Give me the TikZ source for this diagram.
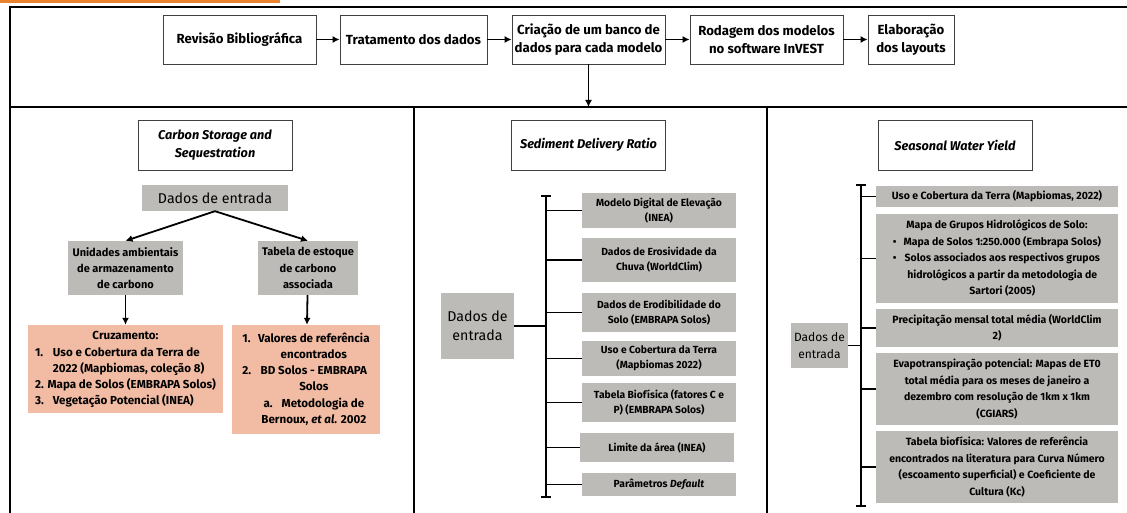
\documentclass[tikz,border=0pt]{standalone}
\usepackage{fontspec}
\setmainfont{Fira Sans}
\usepackage{xcolor}
\usetikzlibrary{arrows,arrows.meta}
\definecolor{boxgray}{HTML}{BDBBB8}
\definecolor{boxorange}{HTML}{F2BCA4}
\definecolor{stripe}{HTML}{E8822E}

\begin{document}
\begin{tikzpicture}[x=1pt,y=-1pt,
  topbox/.style={draw=black!75, line width=0.8pt, fill=white, align=center, minimum height=49, inner sep=2pt, font=\fontsize{13.2}{18.5}\selectfont\bfseries},
  titlebox/.style={topbox, minimum width=154, minimum height=50, font=\fontsize{12.7}{18}\selectfont\bfseries\itshape},
  graybox/.style={fill=boxgray, align=center, inner sep=1pt, font=\fontsize{10.3}{15}\selectfont\bfseries},
  sidebox/.style={graybox, minimum width=242, font=\fontsize{10.5}{16.5}\selectfont\bfseries},
  orangebox/.style={fill=boxorange, align=center, inner sep=1pt, font=\fontsize{11.6}{16.2}\selectfont\bfseries},
  inbox/.style={fill=boxgray, align=center, inner sep=1pt, font=\fontsize{14.2}{19}\selectfont},
  conn/.style={line width=1.8pt},
  flow/.style={line width=1.8pt, -{Latex[length=7pt,width=7pt]}}]
\useasboundingbox (0,0) rectangle (1127,513);
\fill[stripe] (0,0) rectangle (280,3);

% frame
\draw[line width=2.6pt] (10,513) -- (10,7) -- (1127,7);
\draw[line width=2.2pt] (10,107) -- (1127,107);
\draw[line width=2pt] (414,107) -- (414,513);
\draw[line width=2pt] (767,107) -- (767,513);

% steps
\node[topbox, minimum width=153] (rev) at (239.5,39.5) {Revisão Bibliográfica};
\node[topbox, minimum width=147] (trat) at (413.5,39.5) {Tratamento dos dados};
\node[topbox, minimum width=153] (cria) at (588.5,39.5) {Criação de um banco de\\dados para cada modelo};
\node[topbox, minimum width=153] (rod) at (766.5,39.5) {Rodagem dos modelos\\no software InVEST};
\node[topbox, minimum width=86] (elab) at (911,39.5) {Elaboração\\dos layouts};
\draw[flow] (rev) -- (trat);
\draw[flow] (trat) -- (cria);
\draw[flow] (cria) -- (rod);
\draw[flow] (rod) -- (elab);
\coordinate (split) at (588.5,107);
\draw[flow] (cria) -- (split);

% carbon storage
\node[titlebox] (cs) at (215,145) {Carbon Storage and\\Sequestration};
\node[inbox, minimum width=146, minimum height=26] (den1) at (215,198) {Dados de entrada};
\node[graybox, minimum width=115, minimum height=54, font=\fontsize{11}{16.3}\selectfont\bfseries] (uni) at (125.5,268) {Unidades ambientais\\de armazenamento\\de carbono};
\node[graybox, minimum width=100, minimum height=54, font=\fontsize{11}{16.3}\selectfont\bfseries] (tab) at (308,268) {Tabela de estoque\\de carbono\\associada};
\draw[flow] (den1.south) -- (uni.north);
\draw[flow] (den1.south) -- (tab.north);
\node[orangebox, minimum width=195, minimum height=88] (cruz) at (125.5,369) {%
  \begin{tabular}{@{}l@{\hspace{9pt}}l@{}}
  \multicolumn{2}{c}{Cruzamento:}\\
  1. & Uso e Cobertura da Terra de\\
     & 2022 (Mapbiomas, coleção 8)\\
  \multicolumn{2}{@{}l@{}}{2. Mapa de Solos (EMBRAPA Solos)}\\
  3. & Vegetação Potencial (INEA)
  \end{tabular}};
\node[orangebox, minimum width=148, minimum height=109] (valref) at (306,379.5) {%
  \begin{tabular}{@{}l@{\hspace{7pt}}c@{}}
  1. & Valores de referência\\
     & encontrados\\
  2. & BD Solos - EMBRAPA\\
     & Solos\\
     & a.\hspace{9pt}Metodologia de\\
     & Bernoux, \textit{et al.} 2002
  \end{tabular}};
\draw[flow] (uni) -- (cruz);
\draw[flow] (tab) -- (valref);

% sediment delivery ratio
\node[titlebox] (sdr) at (588.5,145) {Sediment Delivery Ratio};
\coordinate (mtop) at (546,196);
\coordinate (mbot) at (546,497);
\draw[conn] (mtop) -- (mbot);
\draw[conn] ([xshift=-5pt]mtop) -- ([xshift=5pt]mtop);
\draw[conn] ([xshift=-5pt]mbot) -- ([xshift=5pt]mbot);
\node[graybox, minimum width=154, minimum height=35] (m1) at (659,210.5) {Modelo Digital de Elevação\\(INEA)};
\node[graybox, minimum width=154, minimum height=44] (m2) at (659,260) {Dados de Erosividade da\\Chuva (WorldClim)};
\node[graybox, minimum width=154, minimum height=39] (m3) at (659,312.5) {Dados de Erodibilidade do\\Solo (EMBRAPA Solos)};
\node[graybox, minimum width=154, minimum height=35] (m4) at (659,358.5) {Uso e Cobertura da Terra\\(Mapbiomas 2022)};
\node[graybox, minimum width=154, minimum height=39] (m5) at (659,402.5) {Tabela Biofísica (fatores C e\\P) (EMBRAPA Solos)};
\node[graybox, minimum width=154, minimum height=29] (m6) at (657,447.5) {Limite da área (INEA)};
\node[graybox, minimum width=154, minimum height=23] (m7) at (659,484.5) {Parâmetros \textit{Default}};
\foreach \b in {m1,m2,m3,m4,m5,m6,m7}
  \draw[conn] (\b.west) -- (\b.west -| mtop);
\node[inbox, minimum width=73, minimum height=66] (den2) at (477.5,326) {Dados de\\entrada};
\draw[conn] (den2.east) -- (den2.east -| mtop);

% seasonal water yield
\node[titlebox] (swy) at (955,145) {Seasonal Water Yield};
\coordinate (rtop) at (861,185);
\coordinate (rbot) at (861,506);
\draw[conn] (rtop) -- (rbot);
\draw[conn] ([xshift=-5pt]rtop) -- ([xshift=5pt]rtop);
\draw[conn] ([xshift=-5pt]rbot) -- ([xshift=5pt]rbot);
\node[sidebox, minimum height=21] (r1) at (997,196.5) {Uso e Cobertura da Terra (Mapbiomas, 2022)};
\node[sidebox, minimum height=89] (r2) at (997,258.5) {%
  \begin{tabular}{@{}l@{\hspace{7pt}}c@{}}
  \multicolumn{2}{c}{Mapa de Grupos Hidrológicos de Solo:}\\
  \textbullet & Mapa de Solos 1:250.000 (Embrapa Solos)\\
  \textbullet & Solos associados aos respectivos grupos\\
              & hidrológicos a partir da metodologia de\\
              & Sartori (2005)
  \end{tabular}};
\node[sidebox, minimum height=38] (r3) at (997,328) {Precipitação mensal total média (WorldClim\\2)};
\node[sidebox, minimum height=72] (r4) at (997,389) {Evapotranspiração potencial: Mapas de ET0\\total média para os meses de janeiro a\\dezembro com resolução de 1km x 1km\\(CGIARS)};
\node[sidebox, minimum height=72] (r5) at (997,467) {Tabela biofísica: Valores de referência\\encontrados na literatura para Curva Número\\(escoamento superficial) e Coeficiente de\\Cultura (Kc)};
\foreach \b in {r1,r2,r3,r4,r5}
  \draw[conn] (\b.west) -- (\b.west -| rtop);
\node[inbox, minimum width=57, minimum height=45, font=\fontsize{12}{16.7}\selectfont] (den3) at (819.5,345.5) {Dados de\\entrada};
\draw[conn] (den3.east) -- (den3.east -| rtop);
\end{tikzpicture}
\end{document}
